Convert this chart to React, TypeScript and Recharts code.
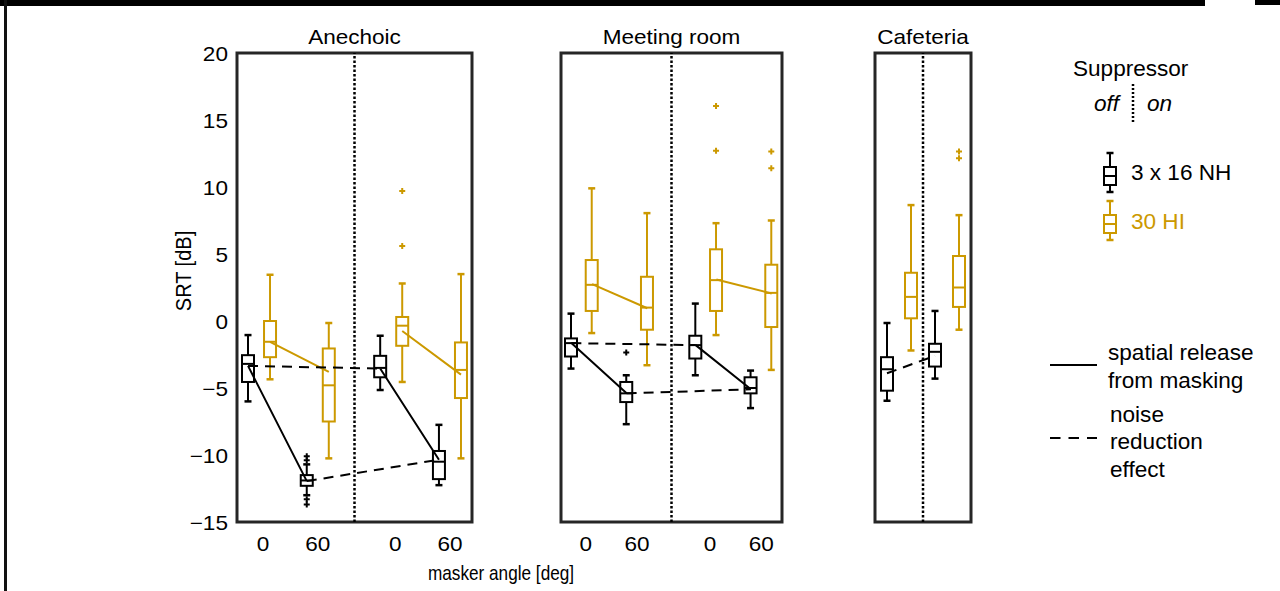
import React from "react";
import {
  ComposedChart,
  Bar,
  Line,
  XAxis,
  YAxis,
  ReferenceLine,
  ReferenceArea,
} from "recharts";

// Etiquetas
const rooms = ["Anechoic", "Meeting room", "Cafeteria"];
const angleLabels = ["0", "60"];
const groupLabels = ["3 x 16 NH", "30 HI"];
const yTicks = [-15, -10, -5, 0, 5, 10, 15, 20];

// Cajas: [min, q1, mediana, q3, max]
// orden: supresor off 0°, off 60°, on 0°, on 60°
const anechoicNH = [
  [-6.0, -4.55, -3.2, -2.55, -1.05],
  [-13.0, -12.3, -11.9, -11.5, -10.7],
  [-5.15, -4.2, -3.5, -2.6, -1.1],
  [-12.25, -11.8, -10.5, -9.7, -7.75],
];
const anechoicHI = [
  [-4.35, -2.7, -1.55, 0.0, 3.45],
  [-10.25, -7.5, -4.8, -2.05, -0.15],
  [-4.55, -1.85, -0.35, 0.3, 2.8],
  [-10.25, -5.75, -3.65, -1.6, 3.5],
];
const anechoicNHOut = [[], [-10.1, -10.4, -13.3, -13.7], [], []];
const anechoicHIOut = [[], [], [5.6, 9.7], []];
const anechoicNHMean = [-3.35, -11.95, -3.55, -10.35];
const anechoicHIMean = [-1.55, -3.8, -0.75, -4.0];

const meetingNH = [
  [-3.55, -2.65, -1.65, -1.3, 0.55],
  [-7.7, -6.05, -5.4, -4.55, -4.05],
  [-4.05, -2.8, -1.8, -1.1, 1.3],
  [-6.5, -5.4, -5.0, -4.2, -3.7],
];
const meetingHI = [
  [-0.9, 0.75, 2.7, 4.55, 9.9],
  [-3.3, -0.65, 1.0, 3.3, 8.05],
  [-1.05, 0.75, 3.05, 5.35, 7.3],
  [-3.65, -0.45, 2.1, 4.2, 7.5],
];
const meetingNHOut = [[], [-2.35], [], []];
const meetingHIOut = [[], [], [12.7, 16.05], [11.4, 12.65]];
const meetingNHMean = [-1.65, -5.4, -1.8, -5.1];
const meetingHIMean = [2.75, 0.95, 3.1, 2.05];

// cafeteria: off, on
const cafeteriaNH = [
  [-5.95, -5.2, -3.6, -2.7, -0.15],
  [-4.3, -3.4, -2.3, -1.7, 0.75],
];
const cafeteriaHI = [
  [-2.2, 0.2, 1.8, 3.6, 8.65],
  [-0.65, 1.05, 2.5, 4.85, 7.9],
];
const cafeteriaNHOut = [[], []];
const cafeteriaHIOut = [[], [12.15, 12.65]];
const cafeteriaNHMean = [-3.9, -2.6];
const cafeteriaHIMean = [1.8, 2.5];

// Estilos
const FONT = '"Liberation Sans", Arial, sans-serif';
const BLACK = "#000000";
const GOLD = "#CC9900";
const FRAME = "#262626";
const PLOT_TOP = 53;
const PLOT_H = 469;
const PAD_TOP = 12;
const TICK_FS = 20;
const TICK_SX = 1.13;

// posiciones en el eje x de cada panel
const xFour = (i: number, g: number) =>
  0.75 + 2 * (i % 2) + 4.5 * Math.floor(i / 2) + (g === 0 ? -0.375 : 0.375);
const xTwo = (i: number, g: number) => 1 + 2 * i + (g === 0 ? -0.5 : 0.5);

const panels = [
  {
    title: rooms[0], left: 237, width: 235, span: 8, labels: true, xOf: xFour,
    ticks: [0.75, 2.75, 5.25, 7.25],
    nh: anechoicNH, hi: anechoicHI, nhOut: anechoicNHOut, hiOut: anechoicHIOut,
    nhMean: anechoicNHMean, hiMean: anechoicHIMean,
    solid: [[0, 1], [2, 3]], dashed: [[0, 2], [1, 3]],
  },
  {
    title: rooms[1], left: 561, width: 221, span: 8, labels: false, xOf: xFour,
    ticks: [0.75, 2.75, 5.25, 7.25],
    nh: meetingNH, hi: meetingHI, nhOut: meetingNHOut, hiOut: meetingHIOut,
    nhMean: meetingNHMean, hiMean: meetingHIMean,
    solid: [[0, 1], [2, 3]], dashed: [[0, 2], [1, 3]],
  },
  {
    title: rooms[2], left: 875, width: 96, span: 4, labels: false, xOf: xTwo,
    ticks: [],
    nh: cafeteriaNH, hi: cafeteriaHI, nhOut: cafeteriaNHOut, hiOut: cafeteriaHIOut,
    nhMean: cafeteriaNHMean, hiMean: cafeteriaHIMean,
    solid: [], dashed: [[0, 1]],
  },
];

// texto ensanchado (la figura original está estirada en horizontal)
const WText = ({ x, y, sx = 1, anchor = "start", size, children, ...rest }: any) => (
  <text
    transform={`translate(${x},${y}) scale(${sx},1)`}
    textAnchor={anchor}
    fontSize={size}
    fontFamily={FONT}
    {...rest}
  >
    {children}
  </text>
);

const fmtY = (v: number) => (v < 0 ? "\u2212" + Math.abs(v) : String(v));

const YTick = (props: any) => {
  const { x, y, payload } = props;
  return (
    <WText x={x} y={y} sx={TICK_SX} anchor="end" size={TICK_FS} dy="0.42em" fill={BLACK}>
      {fmtY(payload.value)}
    </WText>
  );
};

const XTick = (props: any) => {
  const { x, y, payload, index } = props;
  const i = index ?? payload.index ?? 0;
  return (
    <WText x={x + (i % 2 === 0 ? 4 : 0)} y={y} sx={TICK_SX} anchor="middle" size={TICK_FS} dy="0.71em" fill={BLACK}>
      {angleLabels[i % 2]}
    </WText>
  );
};

// Forma de la caja: interpola dentro del rango [min, max] que da Recharts
const BoxShape = (props: any) => {
  const { x, y, width, height, payload } = props;
  if (!payload || !height) return null;
  const { lo, q1, med, q3, hi, out, color } = payload;
  const py = (v: number) => y + (height * (hi - v)) / (hi - lo);
  const cx = x + width / 2;
  const cap = 3.5;
  return (
    <g>
      <line x1={cx} x2={cx} y1={py(hi)} y2={py(q3)} stroke={color} strokeWidth={2} />
      <line x1={cx} x2={cx} y1={py(q1)} y2={py(lo)} stroke={color} strokeWidth={2} />
      <line x1={cx - cap} x2={cx + cap} y1={py(hi)} y2={py(hi)} stroke={color} strokeWidth={2.5} />
      <line x1={cx - cap} x2={cx + cap} y1={py(lo)} y2={py(lo)} stroke={color} strokeWidth={2.5} />
      <rect x={x} y={py(q3)} width={width} height={py(q1) - py(q3)} fill="none" stroke={color} strokeWidth={2} />
      <line x1={x} x2={x + width} y1={py(med)} y2={py(med)} stroke={color} strokeWidth={2} />
      {out.map((v: number, k: number) => (
        <path key={k} d={`M${cx - 3},${py(v)}h6M${cx},${py(v) - 3}v6`} stroke={color} strokeWidth={2} />
      ))}
    </g>
  );
};

const pairsToLine = (pairs: number[][], means: number[], xOf: (i: number) => number) =>
  pairs.flatMap(([a, b], k) => {
    const seg: { x: number; y: number | null }[] = [
      { x: xOf(a), y: means[a] },
      { x: xOf(b), y: means[b] },
    ];
    return k < pairs.length - 1 ? [...seg, { x: xOf(b), y: null }] : seg;
  });

const Panel = ({ cfg }: { cfg: any }) => {
  const leftPad = cfg.labels ? 52 : 6;
  const w = leftPad + cfg.width + 6;
  const h = PAD_TOP + PLOT_H + 44;

  const boxes = [
    ...cfg.nh.map((s: number[], i: number) => ({
      x: cfg.xOf(i, 0), lo: s[0], q1: s[1], med: s[2], q3: s[3], hi: s[4],
      out: cfg.nhOut[i], color: BLACK,
    })),
    ...cfg.hi.map((s: number[], i: number) => ({
      x: cfg.xOf(i, 1), lo: s[0], q1: s[1], med: s[2], q3: s[3], hi: s[4],
      out: cfg.hiOut[i], color: GOLD,
    })),
  ];

  const nhX = (i: number) => cfg.xOf(i, 0);
  const hiX = (i: number) => cfg.xOf(i, 1);

  return (
    <div style={{ position: "absolute", left: cfg.left - leftPad, top: PLOT_TOP - PAD_TOP }}>
      <ComposedChart
        width={w}
        height={h}
        data={boxes}
        margin={{ top: PAD_TOP, right: 6, bottom: 0, left: cfg.labels ? 0 : 6 }}
      >
        <XAxis
          dataKey="x"
          type="number"
          domain={[0, cfg.span]}
          ticks={cfg.ticks}
          interval={0}
          tick={cfg.ticks.length ? XTick : false}
          tickLine={false}
          axisLine={false}
          height={44}
          tickSize={6}
          tickMargin={9}
          allowDataOverflow
        />
        <YAxis
          yAxisId="y"
          type="number"
          domain={[-15, 20]}
          ticks={yTicks}
          interval={0}
          hide={!cfg.labels}
          width={52}
          tick={YTick}
          tickLine={false}
          axisLine={false}
          tickSize={6}
          tickMargin={3}
          allowDataOverflow
        />
        <YAxis
          yAxisId="tl"
          type="number"
          domain={[-15, 20]}
          ticks={yTicks}
          interval={0}
          mirror
          tick={false}
          tickLine={{ stroke: FRAME, strokeWidth: 2 }}
          tickSize={5}
          axisLine={false}
        />
        <YAxis
          yAxisId="tr"
          orientation="right"
          type="number"
          domain={[-15, 20]}
          ticks={yTicks}
          interval={0}
          mirror
          tick={false}
          tickLine={{ stroke: FRAME, strokeWidth: 2 }}
          tickSize={5}
          axisLine={false}
        />
        <ReferenceArea
          yAxisId="y"
          x1={0}
          x2={cfg.span}
          y1={-15}
          y2={20}
          fill="none"
          stroke={FRAME}
          strokeWidth={3}
          ifOverflow="visible"
        />
        <ReferenceLine
          yAxisId="y"
          x={cfg.span / 2}
          stroke={BLACK}
          strokeWidth={2.5}
          strokeDasharray="2.5 2"
        />
        <Bar
          yAxisId="y"
          dataKey={(d: any) => [d.lo, d.hi]}
          barSize={12}
          shape={BoxShape}
          isAnimationActive={false}
        />
        {cfg.solid.length > 0 && (
          <Line
            yAxisId="y"
            data={pairsToLine(cfg.solid, cfg.hiMean, hiX)}
            dataKey="y"
            stroke={GOLD}
            strokeWidth={2}
            dot={false}
            activeDot={false}
            isAnimationActive={false}
          />
        )}
        {cfg.solid.length > 0 && (
          <Line
            yAxisId="y"
            data={pairsToLine(cfg.solid, cfg.nhMean, nhX)}
            dataKey="y"
            stroke={BLACK}
            strokeWidth={2}
            dot={false}
            activeDot={false}
            isAnimationActive={false}
          />
        )}
        <Line
          yAxisId="y"
          data={pairsToLine(cfg.dashed, cfg.nhMean, nhX)}
          dataKey="y"
          stroke={BLACK}
          strokeWidth={2}
          strokeDasharray="10 7"
          dot={false}
          activeDot={false}
          isAnimationActive={false}
        />
      </ComposedChart>
    </div>
  );
};

// Icono de caja para la leyenda
const LegendBox = ({ cx, top, color }: { cx: number; top: number; color: string }) => (
  <g stroke={color} fill="none">
    <line x1={cx} x2={cx} y1={top} y2={top + 39} strokeWidth={2} />
    <line x1={cx - 3.5} x2={cx + 3.5} y1={top} y2={top} strokeWidth={2.5} />
    <line x1={cx - 3.5} x2={cx + 3.5} y1={top + 39} y2={top + 39} strokeWidth={2.5} />
    <rect x={cx - 6} y={top + 14} width={12} height={18} fill="#fff" strokeWidth={2} />
    <line x1={cx - 6} x2={cx + 6} y1={top + 23} y2={top + 23} strokeWidth={2} />
  </g>
);

const LEG_FS = 21.5;
const LEG_SX = 1.05;

const App = () => {
  return (
    <div
      style={{
        position: "absolute",
        left: 0,
        top: 0,
        width: 1280,
        height: 591,
        background: "#fff",
        overflow: "hidden",
        fontFamily: FONT,
      }}
    >
      {/* bordes del recorte */}
      <div style={{ position: "absolute", left: 0, top: 0, width: 1205, height: 6, background: "#000" }} />
      <div style={{ position: "absolute", left: 1255, top: 0, width: 25, height: 5, background: "#000" }} />
      <div style={{ position: "absolute", left: 4, top: 0, width: 3, height: 591, background: "#111" }} />

      {panels.map((p) => (
        <Panel key={p.title} cfg={p} />
      ))}

      <svg
        width={1280}
        height={591}
        style={{ position: "absolute", left: 0, top: 0, pointerEvents: "none" }}
      >
        {panels.map((p) => (
          <WText key={p.title} x={p.left + p.width / 2} y={44} sx={1.1} anchor="middle" size={20.5} fill={BLACK}>
            {p.title}
          </WText>
        ))}
        <text
          transform="translate(183,271) rotate(-90) scale(1,1.1)"
          textAnchor="middle"
          dominantBaseline="central"
          fontSize={20}
          fontFamily={FONT}
          fill={BLACK}
        >
          SRT [dB]
        </text>
        <WText x={501} y={580} sx={0.86} anchor="middle" size={20} fill={BLACK}>
          masker angle [deg]
        </WText>

        {/* leyenda */}
        <WText x={1073} y={76} sx={LEG_SX} size={LEG_FS} fill={BLACK}>Suppressor</WText>
        <WText x={1094} y={111} sx={LEG_SX} size={LEG_FS} fontStyle="italic" fill={BLACK}>off</WText>
        <line x1={1133} x2={1133} y1={84} y2={123} stroke={BLACK} strokeWidth={2.5} strokeDasharray="2 2" />
        <WText x={1147} y={111} sx={LEG_SX} size={LEG_FS} fontStyle="italic" fill={BLACK}>on</WText>

        <LegendBox cx={1110} top={153} color={BLACK} />
        <WText x={1131} y={180} sx={LEG_SX} size={LEG_FS} fill={BLACK}>{groupLabels[0]}</WText>
        <LegendBox cx={1110} top={201} color={GOLD} />
        <WText x={1131} y={229} sx={LEG_SX} size={LEG_FS} fill={GOLD}>{groupLabels[1]}</WText>

        <line x1={1050} x2={1097} y1={365} y2={365} stroke={BLACK} strokeWidth={2} />
        <WText x={1108} y={360} sx={LEG_SX} size={LEG_FS} fill={BLACK}>spatial release</WText>
        <WText x={1108} y={388} sx={LEG_SX} size={LEG_FS} fill={BLACK}>from masking</WText>

        <line x1={1050} x2={1097} y1={438} y2={438} stroke={BLACK} strokeWidth={2} strokeDasharray="10.5 8" />
        <WText x={1110} y={422} sx={LEG_SX} size={LEG_FS} fill={BLACK}>noise</WText>
        <WText x={1110} y={449} sx={LEG_SX} size={LEG_FS} fill={BLACK}>reduction</WText>
        <WText x={1110} y={477} sx={LEG_SX} size={LEG_FS} fill={BLACK}>effect</WText>
      </svg>
    </div>
  );
};

export default App;
